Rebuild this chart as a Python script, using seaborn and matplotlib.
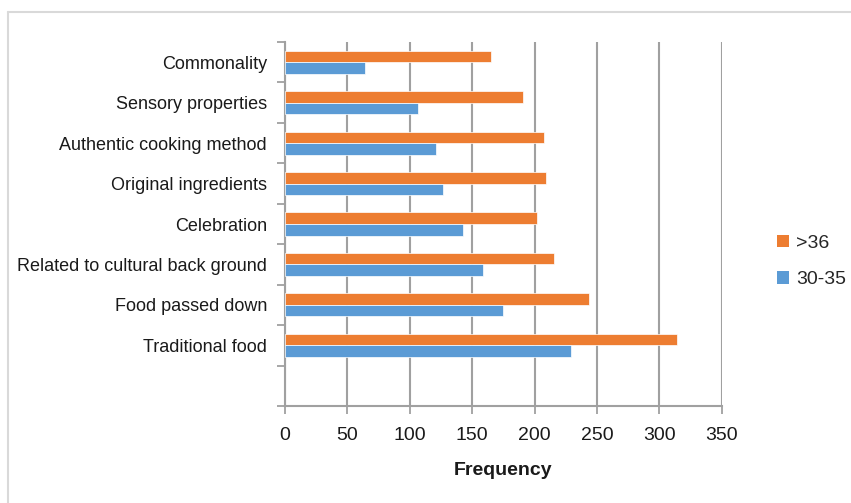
import numpy as np
import pandas as pd
import matplotlib
matplotlib.use("Agg")
import matplotlib.pyplot as plt
from matplotlib.lines import Line2D
from matplotlib.patches import Patch
import seaborn as sns

# Survey responses by age group
categories = [
    "Commonality",
    "Sensory properties",
    "Authentic cooking method",
    "Original ingredients",
    "Celebration",
    "Related to cultural back ground",
    "Food passed down",
    "Traditional food",
]
age_over_36 = [165, 191, 208, 209, 202, 216, 244, 314]
age_30_35 = [64, 107, 121, 127, 143, 159, 175, 229]
groups = [">36", "30-35"]
x_ticks = [0, 50, 100, 150, 200, 250, 300, 350]

colors = {">36": "#ED7D31", "30-35": "#5B9BD5"}

df = pd.DataFrame({
    "category": categories * 2,
    "group": [groups[0]] * len(categories) + [groups[1]] * len(categories),
    "value": age_over_36 + age_30_35,
})

sns.set_theme(style="white")
plt.rcParams["font.family"] = ["Liberation Sans", "DejaVu Sans"]

fig = plt.figure(figsize=(8.51, 5.03), dpi=100)
ax = fig.add_axes([0.3349, 0.1928, 0.848 - 0.3349, 0.9165 - 0.1928])

sns.barplot(
    data=df, x="value", y="category", hue="group",
    order=categories, hue_order=groups, palette=colors, saturation=1,
    orient="h", width=0.57, edgecolor="#ffffff", linewidth=0.5,
    legend=False, ax=ax, zorder=3,
)

n_slots = len(categories) + 1
ax.set_ylim(n_slots - 0.5, -0.5)
ax.set_xlim(0, 350)
ax.set_xticks(x_ticks)
ax.set_xticklabels([str(t) for t in x_ticks], fontsize=14, color="#1a1a1a")

# tick marks at slot boundaries, labels centred in each slot
ax.set_yticks(np.arange(n_slots + 1) - 0.5)
ax.set_yticklabels([])
ax.set_yticks(np.arange(len(categories)), minor=True)
ax.set_yticklabels(categories, minor=True, fontsize=13, color="#1a1a1a")
ax.tick_params(axis="y", which="minor", length=0, pad=13)
ax.tick_params(axis="y", which="major", length=6, width=1.3, color="#a0a0a0", direction="out", left=True)
ax.tick_params(axis="x", length=6, width=1.3, color="#a0a0a0", direction="out", bottom=True, pad=9)

ax.xaxis.grid(True, color="#a0a0a0", linewidth=1.5, zorder=0)
ax.yaxis.grid(False)
ax.set_axisbelow(True)
for side in ("top", "right"):
    ax.spines[side].set_visible(False)
for side in ("left", "bottom"):
    ax.spines[side].set_color("#a0a0a0")
    ax.spines[side].set_linewidth(1.5)

ax.set_ylabel("")
ax.set_xlabel("Frequency", fontsize=14, fontweight="bold", color="#1a1a1a", labelpad=13)

handles = [Patch(facecolor=colors[g], edgecolor="none") for g in groups]
fig.legend(
    handles, groups, loc="center left", bbox_to_anchor=(0.913, 0.480),
    frameon=False, fontsize=14, handlelength=0.6, handleheight=0.6,
    handletextpad=0.4, labelspacing=1.0, borderpad=0, borderaxespad=0,
)

# outer frame
frame_kw = dict(color="#d9d9d9", linewidth=1.5, transform=fig.transFigure)
fig.add_artist(Line2D([8 / 851, 1.0], [1 - 12 / 503, 1 - 12 / 503], **frame_kw))
fig.add_artist(Line2D([8 / 851, 8 / 851], [0.0, 1 - 12 / 503], **frame_kw))

fig.savefig("out.png", dpi=100, facecolor="white")
